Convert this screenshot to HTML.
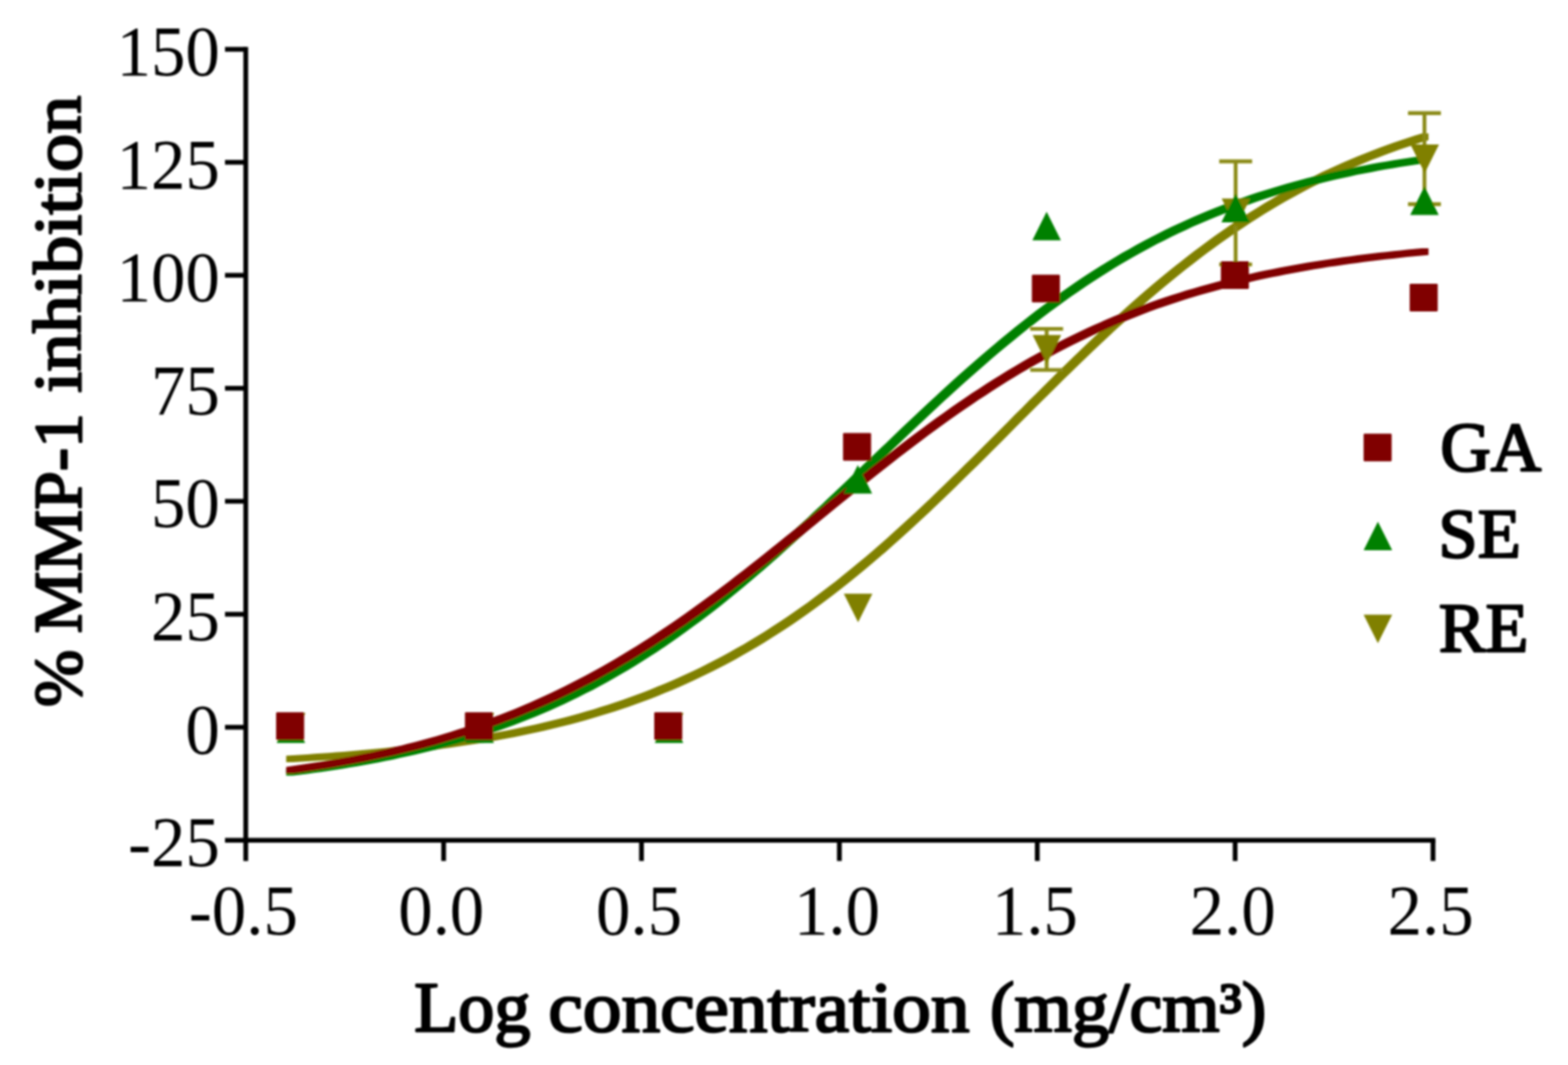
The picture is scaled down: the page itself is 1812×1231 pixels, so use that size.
<!DOCTYPE html>
<html lang="en"><head><meta charset="utf-8"><title>% MMP-1 inhibition vs log concentration</title>
<style>html,body{margin:0;padding:0;background:#fff;}body{width:1812px;height:1231px;overflow:hidden;}svg{display:block;}text{font-family:"Liberation Serif",serif;fill:#000;}</style>
</head><body>
<svg width="1812" height="1231" viewBox="0 0 1812 1231">
<rect x="0" y="0" width="1812" height="1231" fill="#fff"/>
<defs><filter id="b" x="-2%" y="-2%" width="104%" height="104%"><feGaussianBlur stdDeviation="0.80"/></filter></defs>
<g filter="url(#b)">
<g stroke="#000" stroke-width="5.50" fill="none" stroke-linecap="butt">
<line x1="284.00" y1="54.25" x2="284.00" y2="995.20"/>
<line x1="260.00" y1="971.20" x2="1658.75" y2="971.20"/>
<line x1="260.00" y1="57.00" x2="284.00" y2="57.00"/>
<line x1="260.00" y1="187.60" x2="284.00" y2="187.60"/>
<line x1="260.00" y1="318.20" x2="284.00" y2="318.20"/>
<line x1="260.00" y1="448.80" x2="284.00" y2="448.80"/>
<line x1="260.00" y1="579.40" x2="284.00" y2="579.40"/>
<line x1="260.00" y1="710.00" x2="284.00" y2="710.00"/>
<line x1="260.00" y1="840.60" x2="284.00" y2="840.60"/>
<line x1="512.67" y1="971.20" x2="512.67" y2="995.20"/>
<line x1="741.33" y1="971.20" x2="741.33" y2="995.20"/>
<line x1="970.00" y1="971.20" x2="970.00" y2="995.20"/>
<line x1="1198.67" y1="971.20" x2="1198.67" y2="995.20"/>
<line x1="1427.33" y1="971.20" x2="1427.33" y2="995.20"/>
<line x1="1656.00" y1="971.20" x2="1656.00" y2="995.20"/>
</g>
<text transform="translate(254.00 86.90) scale(0.9620 1.0000)" font-size="82.70" font-weight="normal" text-anchor="end">150</text>
<text transform="translate(254.00 217.50) scale(0.9620 1.0000)" font-size="82.70" font-weight="normal" text-anchor="end">125</text>
<text transform="translate(254.00 348.10) scale(0.9620 1.0000)" font-size="82.70" font-weight="normal" text-anchor="end">100</text>
<text transform="translate(254.00 478.70) scale(0.9620 1.0000)" font-size="82.70" font-weight="normal" text-anchor="end">75</text>
<text transform="translate(254.00 609.30) scale(0.9620 1.0000)" font-size="82.70" font-weight="normal" text-anchor="end">50</text>
<text transform="translate(254.00 739.90) scale(0.9620 1.0000)" font-size="82.70" font-weight="normal" text-anchor="end">25</text>
<text transform="translate(254.00 870.50) scale(0.9620 1.0000)" font-size="82.70" font-weight="normal" text-anchor="end">0</text>
<text transform="translate(254.00 1001.10) scale(0.9620 1.0000)" font-size="82.70" font-weight="normal" text-anchor="end">-25</text>
<text transform="translate(281.20 1079.90) scale(0.9620 1.0000)" font-size="82.70" font-weight="normal" text-anchor="middle">-0.5</text>
<text transform="translate(509.87 1079.90) scale(0.9620 1.0000)" font-size="82.70" font-weight="normal" text-anchor="middle">0.0</text>
<text transform="translate(738.53 1079.90) scale(0.9620 1.0000)" font-size="82.70" font-weight="normal" text-anchor="middle">0.5</text>
<text transform="translate(967.20 1079.90) scale(0.9620 1.0000)" font-size="82.70" font-weight="normal" text-anchor="middle">1.0</text>
<text transform="translate(1195.87 1079.90) scale(0.9620 1.0000)" font-size="82.70" font-weight="normal" text-anchor="middle">1.5</text>
<text transform="translate(1424.53 1079.90) scale(0.9620 1.0000)" font-size="82.70" font-weight="normal" text-anchor="middle">2.0</text>
<text transform="translate(1653.20 1079.90) scale(0.9620 1.0000)" font-size="82.70" font-weight="normal" text-anchor="middle">2.5</text>
<text y="1192.29" font-size="81.80" font-weight="normal" stroke="#000" stroke-linejoin="round" stroke-width="2.62"><tspan x="478.65" textLength="134.42" lengthAdjust="spacingAndGlyphs">Log</tspan> <tspan x="633.81" textLength="486.62" lengthAdjust="spacingAndGlyphs">concentration</tspan> <tspan x="1143.94" textLength="319.47" lengthAdjust="spacingAndGlyphs">(mg/cm³)</tspan></text>
<text transform="rotate(-90)" y="93.15" font-size="78.31" font-weight="normal" stroke="#000" stroke-linejoin="round" stroke-width="2.51"><tspan x="-817.39" textLength="66.33" lengthAdjust="spacingAndGlyphs">%</tspan> <tspan x="-732.11" textLength="254.62" lengthAdjust="spacingAndGlyphs">MMP-1</tspan> <tspan x="-454.04" textLength="343.57" lengthAdjust="spacingAndGlyphs">inhibition</tspan></text>
<polygon points="330.7,881.1 330.7,873.4 339.0,872.9 347.2,872.4 355.5,871.9 363.7,871.3 372.0,870.8 380.3,870.2 388.5,869.5 396.8,868.9 405.0,868.2 413.3,867.5 421.5,866.8 429.8,866.0 438.0,865.2 446.3,864.4 454.5,863.5 462.8,862.6 471.0,861.7 479.3,860.8 487.6,859.8 495.8,858.7 504.1,857.6 512.3,856.5 520.6,855.3 528.8,854.1 537.1,852.9 545.3,851.5 553.6,850.2 561.8,848.8 570.1,847.3 578.3,845.8 586.6,844.2 594.9,842.5 603.1,840.8 611.4,839.1 619.6,837.2 627.9,835.3 636.1,833.3 644.4,831.3 652.6,829.2 660.9,827.0 669.1,824.7 677.4,822.3 685.6,819.9 693.9,817.3 702.2,814.7 710.4,812.0 718.7,809.2 726.9,806.3 735.2,803.3 743.4,800.2 751.7,797.0 759.9,793.6 768.2,790.2 776.4,786.7 784.7,783.1 792.9,779.3 801.2,775.4 809.5,771.4 817.7,767.3 826.0,763.1 834.2,758.7 842.5,754.2 850.7,749.6 859.0,744.9 867.2,740.0 875.5,735.0 883.7,729.9 892.0,724.6 900.2,719.3 908.5,713.7 916.8,708.1 925.0,702.3 933.3,696.4 941.5,690.3 949.8,684.1 958.0,677.8 966.3,671.4 974.5,664.8 982.8,658.1 991.0,651.3 999.3,644.4 1007.5,637.4 1015.8,630.2 1024.1,622.9 1032.3,615.6 1040.6,608.1 1048.8,600.6 1057.1,592.9 1065.3,585.2 1073.6,577.4 1081.8,569.5 1090.1,561.5 1098.3,553.5 1106.6,545.4 1114.8,537.3 1123.1,529.2 1131.4,521.0 1139.6,512.7 1147.9,504.5 1156.1,496.2 1164.4,487.9 1172.6,479.6 1180.9,471.4 1189.1,463.1 1197.4,454.9 1205.6,446.7 1213.9,438.5 1222.1,430.3 1230.4,422.3 1238.6,414.2 1246.9,406.2 1255.2,398.3 1263.4,390.5 1271.7,382.7 1279.9,375.1 1288.2,367.5 1296.4,360.0 1304.7,352.6 1312.9,345.3 1321.2,338.1 1329.4,331.1 1337.7,324.1 1345.9,317.3 1354.2,310.5 1362.5,303.9 1370.7,297.5 1379.0,291.1 1387.2,284.9 1395.5,278.8 1403.7,272.8 1412.0,267.0 1420.2,261.3 1428.5,255.8 1436.7,250.3 1445.0,245.0 1453.2,239.9 1461.5,234.8 1469.8,229.9 1478.0,225.1 1486.3,220.5 1494.5,216.0 1502.8,211.6 1511.0,207.3 1519.3,203.2 1527.5,199.1 1535.8,195.2 1544.0,191.4 1552.3,187.8 1560.5,184.2 1568.8,180.7 1577.1,177.4 1585.3,174.2 1593.6,171.0 1601.8,168.0 1610.1,165.1 1618.3,162.2 1626.6,159.5 1634.8,156.8 1643.1,154.3 1650.8,154.3 1650.8,162.0 1642.5,164.5 1634.3,167.2 1626.0,169.9 1617.8,172.8 1609.5,175.7 1601.3,178.7 1593.0,181.9 1584.8,185.1 1576.5,188.4 1568.2,191.9 1560.0,195.5 1551.7,199.1 1543.5,202.9 1535.2,206.8 1527.0,210.9 1518.7,215.0 1510.5,219.3 1502.2,223.7 1494.0,228.2 1485.7,232.8 1477.5,237.6 1469.2,242.5 1460.9,247.6 1452.7,252.7 1444.4,258.0 1436.2,263.5 1427.9,269.0 1419.7,274.7 1411.4,280.5 1403.2,286.5 1394.9,292.6 1386.7,298.8 1378.4,305.2 1370.2,311.6 1361.9,318.2 1353.6,325.0 1345.4,331.8 1337.1,338.8 1328.9,345.8 1320.6,353.0 1312.4,360.3 1304.1,367.7 1295.9,375.2 1287.6,382.8 1279.4,390.4 1271.1,398.2 1262.9,406.0 1254.6,413.9 1246.3,421.9 1238.1,430.0 1229.8,438.0 1221.6,446.2 1213.3,454.4 1205.1,462.6 1196.8,470.8 1188.6,479.1 1180.3,487.3 1172.1,495.6 1163.8,503.9 1155.6,512.2 1147.3,520.4 1139.1,528.7 1130.8,536.9 1122.5,545.0 1114.3,553.1 1106.0,561.2 1097.8,569.2 1089.5,577.2 1081.3,585.1 1073.0,592.9 1064.8,600.6 1056.5,608.3 1048.3,615.8 1040.0,623.3 1031.8,630.6 1023.5,637.9 1015.2,645.1 1007.0,652.1 998.7,659.0 990.5,665.8 982.2,672.5 974.0,679.1 965.7,685.5 957.5,691.8 949.2,698.0 941.0,704.1 932.7,710.0 924.5,715.8 916.2,721.4 907.9,727.0 899.7,732.3 891.4,737.6 883.2,742.7 874.9,747.7 866.7,752.6 858.4,757.3 850.2,761.9 841.9,766.4 833.7,770.8 825.4,775.0 817.2,779.1 808.9,783.1 800.6,787.0 792.4,790.8 784.1,794.4 775.9,797.9 767.6,801.3 759.4,804.7 751.1,807.9 742.9,811.0 734.6,814.0 726.4,816.9 718.1,819.7 709.9,822.4 701.6,825.0 693.3,827.6 685.1,830.0 676.8,832.4 668.6,834.7 660.3,836.9 652.1,839.0 643.8,841.0 635.6,843.0 627.3,844.9 619.1,846.8 610.8,848.5 602.6,850.2 594.3,851.9 586.0,853.5 577.8,855.0 569.5,856.5 561.3,857.9 553.0,859.2 544.8,860.6 536.5,861.8 528.3,863.0 520.0,864.2 511.8,865.3 503.5,866.4 495.3,867.5 487.0,868.5 478.7,869.4 470.5,870.3 462.2,871.2 454.0,872.1 445.7,872.9 437.5,873.7 429.2,874.5 421.0,875.2 412.7,875.9 404.5,876.6 396.2,877.2 388.0,877.9 379.7,878.5 371.4,879.0 363.2,879.6 354.9,880.1 346.7,880.6 338.4,881.1" fill="#808000"/>
<polygon points="330.7,896.5 330.7,888.8 339.0,887.8 347.2,886.7 355.5,885.6 363.7,884.5 372.0,883.3 380.3,882.0 388.5,880.7 396.8,879.4 405.0,878.0 413.3,876.6 421.5,875.0 429.8,873.5 438.0,871.9 446.3,870.2 454.5,868.4 462.8,866.6 471.0,864.8 479.3,862.8 487.6,860.8 495.8,858.7 504.1,856.5 512.3,854.3 520.6,852.0 528.8,849.6 537.1,847.1 545.3,844.5 553.6,841.8 561.8,839.1 570.1,836.2 578.3,833.3 586.6,830.2 594.9,827.1 603.1,823.8 611.4,820.5 619.6,817.0 627.9,813.5 636.1,809.8 644.4,806.0 652.6,802.1 660.9,798.1 669.1,793.9 677.4,789.7 685.6,785.3 693.9,780.8 702.2,776.1 710.4,771.4 718.7,766.5 726.9,761.5 735.2,756.4 743.4,751.1 751.7,745.7 759.9,740.2 768.2,734.6 776.4,728.8 784.7,722.9 792.9,716.9 801.2,710.8 809.5,704.5 817.7,698.2 826.0,691.7 834.2,685.1 842.5,678.4 850.7,671.6 859.0,664.6 867.2,657.6 875.5,650.5 883.7,643.3 892.0,636.0 900.2,628.6 908.5,621.1 916.8,613.6 925.0,606.0 933.3,598.4 941.5,590.6 949.8,582.9 958.0,575.1 966.3,567.2 974.5,559.4 982.8,551.5 991.0,543.5 999.3,535.6 1007.5,527.7 1015.8,519.8 1024.1,511.9 1032.3,504.0 1040.6,496.1 1048.8,488.3 1057.1,480.5 1065.3,472.7 1073.6,465.0 1081.8,457.4 1090.1,449.8 1098.3,442.3 1106.6,434.8 1114.8,427.5 1123.1,420.2 1131.4,413.0 1139.6,405.9 1147.9,398.9 1156.1,392.0 1164.4,385.2 1172.6,378.5 1180.9,371.9 1189.1,365.5 1197.4,359.1 1205.6,352.9 1213.9,346.8 1222.1,340.8 1230.4,334.9 1238.6,329.2 1246.9,323.6 1255.2,318.1 1263.4,312.8 1271.7,307.5 1279.9,302.4 1288.2,297.4 1296.4,292.6 1304.7,287.9 1312.9,283.3 1321.2,278.8 1329.4,274.4 1337.7,270.2 1345.9,266.1 1354.2,262.1 1362.5,258.2 1370.7,254.4 1379.0,250.8 1387.2,247.2 1395.5,243.8 1403.7,240.5 1412.0,237.2 1420.2,234.1 1428.5,231.1 1436.7,228.2 1445.0,225.3 1453.2,222.6 1461.5,219.9 1469.8,217.4 1478.0,214.9 1486.3,212.5 1494.5,210.2 1502.8,208.0 1511.0,205.8 1519.3,203.8 1527.5,201.8 1535.8,199.8 1544.0,198.0 1552.3,196.2 1560.5,194.4 1568.8,192.8 1577.1,191.2 1585.3,189.6 1593.6,188.1 1601.8,186.7 1610.1,185.3 1618.3,184.0 1626.6,182.7 1634.8,181.5 1643.1,180.3 1650.8,180.3 1650.8,188.0 1642.5,189.2 1634.3,190.4 1626.0,191.7 1617.8,193.0 1609.5,194.4 1601.3,195.8 1593.0,197.3 1584.8,198.9 1576.5,200.5 1568.2,202.1 1560.0,203.9 1551.7,205.7 1543.5,207.5 1535.2,209.5 1527.0,211.5 1518.7,213.5 1510.5,215.7 1502.2,217.9 1494.0,220.2 1485.7,222.6 1477.5,225.1 1469.2,227.6 1460.9,230.3 1452.7,233.0 1444.4,235.9 1436.2,238.8 1427.9,241.8 1419.7,244.9 1411.4,248.2 1403.2,251.5 1394.9,254.9 1386.7,258.5 1378.4,262.1 1370.2,265.9 1361.9,269.8 1353.6,273.8 1345.4,277.9 1337.1,282.1 1328.9,286.5 1320.6,291.0 1312.4,295.6 1304.1,300.3 1295.9,305.1 1287.6,310.1 1279.4,315.2 1271.1,320.5 1262.9,325.8 1254.6,331.3 1246.3,336.9 1238.1,342.6 1229.8,348.5 1221.6,354.5 1213.3,360.6 1205.1,366.8 1196.8,373.2 1188.6,379.6 1180.3,386.2 1172.1,392.9 1163.8,399.7 1155.6,406.6 1147.3,413.6 1139.1,420.7 1130.8,427.9 1122.5,435.2 1114.3,442.5 1106.0,450.0 1097.8,457.5 1089.5,465.1 1081.3,472.7 1073.0,480.4 1064.8,488.2 1056.5,496.0 1048.3,503.8 1040.0,511.7 1031.8,519.6 1023.5,527.5 1015.2,535.4 1007.0,543.3 998.7,551.2 990.5,559.2 982.2,567.1 974.0,574.9 965.7,582.8 957.5,590.6 949.2,598.3 941.0,606.1 932.7,613.7 924.5,621.3 916.2,628.8 907.9,636.3 899.7,643.7 891.4,651.0 883.2,658.2 874.9,665.3 866.7,672.3 858.4,679.3 850.2,686.1 841.9,692.8 833.7,699.4 825.4,705.9 817.2,712.2 808.9,718.5 800.6,724.6 792.4,730.6 784.1,736.5 775.9,742.3 767.6,747.9 759.4,753.4 751.1,758.8 742.9,764.1 734.6,769.2 726.4,774.2 718.1,779.1 709.9,783.8 701.6,788.5 693.3,793.0 685.1,797.4 676.8,801.6 668.6,805.8 660.3,809.8 652.1,813.7 643.8,817.5 635.6,821.2 627.3,824.7 619.1,828.2 610.8,831.5 602.6,834.8 594.3,837.9 586.0,841.0 577.8,843.9 569.5,846.8 561.3,849.5 553.0,852.2 544.8,854.8 536.5,857.3 528.3,859.7 520.0,862.0 511.8,864.2 503.5,866.4 495.3,868.5 487.0,870.5 478.7,872.5 470.5,874.3 462.2,876.1 454.0,877.9 445.7,879.6 437.5,881.2 429.2,882.7 421.0,884.3 412.7,885.7 404.5,887.1 396.2,888.4 388.0,889.7 379.7,891.0 371.4,892.2 363.2,893.3 354.9,894.4 346.7,895.5 338.4,896.5" fill="#008000"/>
<polygon points="330.7,894.1 330.7,886.4 339.0,885.2 347.2,884.1 355.5,882.8 363.7,881.5 372.0,880.2 380.3,878.8 388.5,877.4 396.8,875.9 405.0,874.4 413.3,872.8 421.5,871.1 429.8,869.4 438.0,867.6 446.3,865.8 454.5,863.8 462.8,861.9 471.0,859.8 479.3,857.7 487.6,855.5 495.8,853.2 504.1,850.9 512.3,848.4 520.6,845.9 528.8,843.3 537.1,840.7 545.3,837.9 553.6,835.0 561.8,832.1 570.1,829.1 578.3,825.9 586.6,822.7 594.9,819.4 603.1,815.9 611.4,812.4 619.6,808.8 627.9,805.1 636.1,801.2 644.4,797.3 652.6,793.2 660.9,789.1 669.1,784.8 677.4,780.5 685.6,776.0 693.9,771.4 702.2,766.7 710.4,761.9 718.7,757.0 726.9,752.0 735.2,746.9 743.4,741.7 751.7,736.4 759.9,731.0 768.2,725.5 776.4,719.9 784.7,714.2 792.9,708.4 801.2,702.5 809.5,696.5 817.7,690.5 826.0,684.4 834.2,678.2 842.5,671.9 850.7,665.6 859.0,659.2 867.2,652.7 875.5,646.2 883.7,639.7 892.0,633.1 900.2,626.5 908.5,619.8 916.8,613.2 925.0,606.5 933.3,599.8 941.5,593.1 949.8,586.3 958.0,579.6 966.3,572.9 974.5,566.3 982.8,559.6 991.0,553.0 999.3,546.4 1007.5,539.8 1015.8,533.3 1024.1,526.8 1032.3,520.4 1040.6,514.1 1048.8,507.8 1057.1,501.5 1065.3,495.4 1073.6,489.3 1081.8,483.3 1090.1,477.4 1098.3,471.6 1106.6,465.8 1114.8,460.2 1123.1,454.6 1131.4,449.2 1139.6,443.8 1147.9,438.5 1156.1,433.4 1164.4,428.3 1172.6,423.4 1180.9,418.6 1189.1,413.8 1197.4,409.2 1205.6,404.7 1213.9,400.3 1222.1,396.0 1230.4,391.8 1238.6,387.7 1246.9,383.7 1255.2,379.8 1263.4,376.0 1271.7,372.4 1279.9,368.8 1288.2,365.3 1296.4,362.0 1304.7,358.7 1312.9,355.5 1321.2,352.4 1329.4,349.4 1337.7,346.5 1345.9,343.7 1354.2,341.0 1362.5,338.4 1370.7,335.8 1379.0,333.4 1387.2,331.0 1395.5,328.7 1403.7,326.5 1412.0,324.3 1420.2,322.2 1428.5,320.2 1436.7,318.3 1445.0,316.4 1453.2,314.6 1461.5,312.8 1469.8,311.2 1478.0,309.5 1486.3,308.0 1494.5,306.5 1502.8,305.0 1511.0,303.6 1519.3,302.2 1527.5,300.9 1535.8,299.7 1544.0,298.5 1552.3,297.3 1560.5,296.2 1568.8,295.1 1577.1,294.1 1585.3,293.1 1593.6,292.1 1601.8,291.2 1610.1,290.3 1618.3,289.4 1626.6,288.6 1634.8,287.8 1643.1,287.1 1650.8,287.1 1650.8,294.8 1642.5,295.5 1634.3,296.3 1626.0,297.1 1617.8,298.0 1609.5,298.9 1601.3,299.8 1593.0,300.8 1584.8,301.8 1576.5,302.8 1568.2,303.9 1560.0,305.0 1551.7,306.2 1543.5,307.4 1535.2,308.6 1527.0,309.9 1518.7,311.3 1510.5,312.7 1502.2,314.2 1494.0,315.7 1485.7,317.2 1477.5,318.9 1469.2,320.5 1460.9,322.3 1452.7,324.1 1444.4,326.0 1436.2,327.9 1427.9,329.9 1419.7,332.0 1411.4,334.2 1403.2,336.4 1394.9,338.7 1386.7,341.1 1378.4,343.5 1370.2,346.1 1361.9,348.7 1353.6,351.4 1345.4,354.2 1337.1,357.1 1328.9,360.1 1320.6,363.2 1312.4,366.4 1304.1,369.7 1295.9,373.0 1287.6,376.5 1279.4,380.1 1271.1,383.7 1262.9,387.5 1254.6,391.4 1246.3,395.4 1238.1,399.5 1229.8,403.7 1221.6,408.0 1213.3,412.4 1205.1,416.9 1196.8,421.5 1188.6,426.3 1180.3,431.1 1172.1,436.0 1163.8,441.1 1155.6,446.2 1147.3,451.5 1139.1,456.9 1130.8,462.3 1122.5,467.9 1114.3,473.5 1106.0,479.3 1097.8,485.1 1089.5,491.0 1081.3,497.0 1073.0,503.1 1064.8,509.2 1056.5,515.5 1048.3,521.8 1040.0,528.1 1031.8,534.5 1023.5,541.0 1015.2,547.5 1007.0,554.1 998.7,560.7 990.5,567.3 982.2,574.0 974.0,580.6 965.7,587.3 957.5,594.0 949.2,600.8 941.0,607.5 932.7,614.2 924.5,620.9 916.2,627.5 907.9,634.2 899.7,640.8 891.4,647.4 883.2,653.9 874.9,660.4 866.7,666.9 858.4,673.3 850.2,679.6 841.9,685.9 833.7,692.1 825.4,698.2 817.2,704.2 808.9,710.2 800.6,716.1 792.4,721.9 784.1,727.6 775.9,733.2 767.6,738.7 759.4,744.1 751.1,749.4 742.9,754.6 734.6,759.7 726.4,764.7 718.1,769.6 709.9,774.4 701.6,779.1 693.3,783.7 685.1,788.2 676.8,792.5 668.6,796.8 660.3,800.9 652.1,805.0 643.8,808.9 635.6,812.8 627.3,816.5 619.1,820.1 610.8,823.6 602.6,827.1 594.3,830.4 586.0,833.6 577.8,836.8 569.5,839.8 561.3,842.7 553.0,845.6 544.8,848.4 536.5,851.0 528.3,853.6 520.0,856.1 511.8,858.6 503.5,860.9 495.3,863.2 487.0,865.4 478.7,867.5 470.5,869.6 462.2,871.5 454.0,873.5 445.7,875.3 437.5,877.1 429.2,878.8 421.0,880.5 412.7,882.1 404.5,883.6 396.2,885.1 388.0,886.5 379.7,887.9 371.4,889.2 363.2,890.5 354.9,891.8 346.7,892.9 338.4,894.1" fill="#800000"/>
<polygon points="319.98,824.10 352.98,824.10 336.48,857.10" fill="#808000"/>
<polygon points="538.18,824.10 571.18,824.10 554.68,857.10" fill="#808000"/>
<polygon points="756.92,824.10 789.92,824.10 773.42,857.10" fill="#808000"/>
<polygon points="975.13,686.19 1008.13,686.19 991.63,719.19" fill="#808000"/>
<path d="M1209.53 380.10 V427.64 M1190.53 380.10 H1228.53 M1190.53 427.64 H1228.53" stroke="#8a8a12" stroke-width="4.40" fill="none"/>
<polygon points="1193.33,387.37 1226.33,387.37 1209.83,420.37" fill="#808000"/>
<path d="M1427.93 186.56 V305.66 M1408.93 186.56 H1446.93 M1408.93 305.66 H1446.93" stroke="#8a8a12" stroke-width="4.40" fill="none"/>
<polygon points="1411.73,229.61 1444.73,229.61 1428.23,262.61" fill="#808000"/>
<path d="M1646.14 130.82 V236.03 M1627.14 130.82 H1665.14 M1627.14 236.03 H1665.14" stroke="#8a8a12" stroke-width="4.40" fill="none"/>
<polygon points="1629.94,166.92 1662.94,166.92 1646.44,199.92" fill="#808000"/>
<polygon points="336.18,825.74 352.68,858.74 319.68,858.74" fill="#008000"/>
<polygon points="554.38,825.74 570.88,858.74 537.88,858.74" fill="#008000"/>
<polygon points="773.12,825.74 789.62,858.74 756.62,858.74" fill="#008000"/>
<polygon points="991.33,537.38 1007.83,570.38 974.83,570.38" fill="#008000"/>
<polygon points="1209.53,244.84 1226.03,277.84 1193.03,277.84" fill="#008000"/>
<polygon points="1427.93,223.94 1444.43,256.94 1411.43,256.94" fill="#008000"/>
<polygon points="1646.14,215.58 1662.64,248.58 1629.64,248.58" fill="#008000"/>
<rect x="319.08" y="823.26" width="32.40" height="32.00" rx="1.2" fill="#800000"/>
<rect x="537.28" y="823.26" width="32.40" height="32.00" rx="1.2" fill="#800000"/>
<rect x="756.02" y="823.26" width="32.40" height="32.00" rx="1.2" fill="#800000"/>
<rect x="974.23" y="500.41" width="32.40" height="32.00" rx="1.2" fill="#800000"/>
<rect x="1192.43" y="317.57" width="32.40" height="32.00" rx="1.2" fill="#800000"/>
<rect x="1410.83" y="301.90" width="32.40" height="32.00" rx="1.2" fill="#800000"/>
<rect x="1629.04" y="328.02" width="32.40" height="32.00" rx="1.2" fill="#800000"/>
<rect x="1575.80" y="501.30" width="32.40" height="32.00" rx="1.2" fill="#800000"/>
<polygon points="1592.30,602.90 1608.80,635.90 1575.80,635.90" fill="#008000"/>
<polygon points="1575.80,710.50 1608.80,710.50 1592.30,743.50" fill="#808000"/>
<text y="544.01" font-size="80.49" font-weight="normal" stroke="#000" stroke-linejoin="round" stroke-width="2.58"><tspan x="1664.38" textLength="116.56" lengthAdjust="spacingAndGlyphs">GA</tspan></text>
<text y="644.01" font-size="80.49" font-weight="normal" stroke="#000" stroke-linejoin="round" stroke-width="2.58"><tspan x="1662.33" textLength="95.08" lengthAdjust="spacingAndGlyphs">SE</tspan></text>
<text y="753.10" font-size="81.08" font-weight="normal" stroke="#000" stroke-linejoin="round" stroke-width="2.59"><tspan x="1662.79" textLength="103.48" lengthAdjust="spacingAndGlyphs">RE</tspan></text>
</g>
</svg></body></html>
